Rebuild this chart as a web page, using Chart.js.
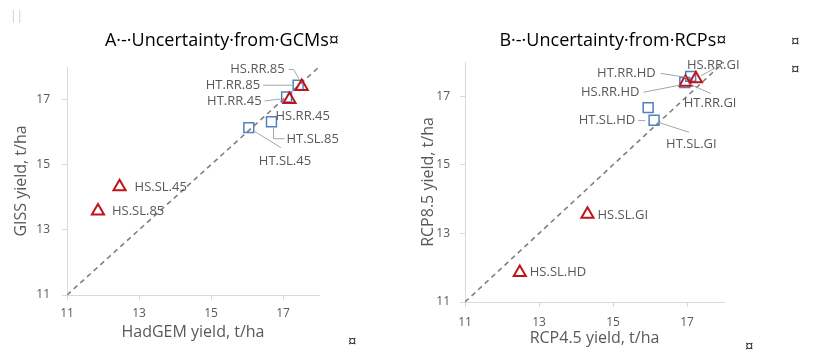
<!DOCTYPE html>
<html><head><meta charset="utf-8">
<script src="https://cdn.jsdelivr.net/npm/chart.js@4.4.1/dist/chart.umd.min.js"></script>
<style>
html,body{margin:0;padding:0;background:#fff;width:827px;height:352px;overflow:hidden;font-family:'Open Sans',sans-serif;}
canvas{position:absolute;top:0;}
#ca{left:0;}
#cb{left:400px;}
.mk{position:absolute;font-size:15px;line-height:15px;color:#1a1a1a;}
</style></head><body>
<canvas id="ca" width="370" height="352"></canvas>
<canvas id="cb" width="427" height="352"></canvas>
<span class="mk" style="left:10px;top:8px;color:#c9c9e6;font-size:12px;">||</span>
<span class="mk" style="left:791px;top:33px;">¤</span>
<span class="mk" style="left:791px;top:61px;">¤</span>
<span class="mk" style="left:348px;top:333px;">¤</span>
<span class="mk" style="left:745px;top:338px;">¤</span>
<script>
// ---------- data ----------
const tickValues = [11, 13, 15, 17];
const axisRange = [11, 18];
const oneToOne = [11, 18];

// Panel A: Uncertainty from GCMs (HadGEM vs GISS)
const aTitle = 'A·-·Uncertainty·from·GCMs¤';
const aXTitle = 'HadGEM yield, t/ha';
const aYTitle = 'GISS yield, t/ha';
const aSquareNames = ['HT.SL.45', 'HT.SL.85', 'HT.RR.45', 'HT.RR.85'];
const aSquareX = [16.05, 16.68, 17.10, 17.42];
const aSquareY = [16.14, 16.32, 17.08, 17.44];
const aTriNames = ['HS.SL.45', 'HS.SL.85', 'HS.RR.45', 'HS.RR.85'];
const aTriX = [12.46, 11.86, 17.18, 17.52];
const aTriY = [14.32, 13.58, 17.00, 17.40];

// Panel B: Uncertainty from RCPs (RCP4.5 vs RCP8.5)
const bTitle = 'B·-·Uncertainty·from·RCPs¤';
const bXTitle = 'RCP4.5 yield, t/ha';
const bYTitle = 'RCP8.5 yield, t/ha';
const bSquareNames = ['HT.SL.HD', 'HT.SL.GI', 'HT.RR.HD', 'HT.RR.GI'];
const bSquareX = [15.95, 16.11, 17.10, 16.94];
const bSquareY = [16.67, 16.30, 17.58, 17.40];
const bTriNames = ['HS.SL.HD', 'HS.SL.GI', 'HS.RR.HD', 'HS.RR.GI'];
const bTriX = [12.48, 14.31, 16.96, 17.24];
const bTriY = [11.86, 13.56, 17.41, 17.51];

// ---------- label placement (pixel offsets from each point) ----------
const labelPlacement = {
  'HS.SL.45': {dx: 15, dy: 0, align: 'left'},
  'HS.SL.85': {dx: 14, dy: 0, align: 'left'},
  'HT.SL.45': {dx: 10, dy: 34, align: 'left', leader: [[6, 4], [32, 20]]},
  'HT.SL.85': {dx: 15, dy: 18, align: 'left', leader: [[2, 6], [2, 17], [13, 17]]},
  'HS.RR.45': {dx: -14, dy: 17, align: 'left'},
  'HT.RR.45': {dx: -25, dy: 4, align: 'right', leader: [[-22, 4], [-6, 2]]},
  'HT.RR.85': {dx: -38, dy: 0, align: 'right', leader: [[-35, 0], [-6, 0]]},
  'HS.RR.85': {dx: -17, dy: -17, align: 'right', leader: [[-13, -17], [-8, -17], [-3, -8]]},
  'HS.SL.HD': {dx: 10, dy: 0, align: 'left'},
  'HS.SL.GI': {dx: 10, dy: 1, align: 'left'},
  'HT.SL.GI': {dx: 12, dy: 24, align: 'left', leader: [[4, 2], [35, 12]]},
  'HT.SL.HD': {dx: -13, dy: 13, align: 'right', leader: [[-10, 13], [-3, 13]]},
  'HS.RR.HD': {dx: -46, dy: 10, align: 'right', leader: [[-42, 10], [-6, 3]]},
  'HT.RR.HD': {dx: -35, dy: -3, align: 'right', leader: [[-30, -3], [-4, 1]]},
  'HT.RR.GI': {dx: -1, dy: 21, align: 'left', leader: [[4, 1], [26, 11]]},
  'HS.RR.GI': {dx: -9, dy: -14, align: 'left', leader: [[5, -3], [18, -10]]}
};

const FONT = "'Open Sans', sans-serif";
const GREY = '#595959';

const pointLabels = {
  id: 'pointLabels',
  afterDatasetsDraw(chart) {
    const ctx = chart.ctx;
    ctx.save();
    chart.data.datasets.forEach((ds, di) => {
      if (!ds.names) return;
      const meta = chart.getDatasetMeta(di);
      meta.data.forEach((el, i) => {
        const p = labelPlacement[ds.names[i]];
        if (!p || !p.leader) return;
        ctx.strokeStyle = '#a6a6a6';
        ctx.lineWidth = 1;
        ctx.beginPath();
        p.leader.forEach(([lx, ly], k) => {
          if (k === 0) ctx.moveTo(el.x + lx, el.y + ly); else ctx.lineTo(el.x + lx, el.y + ly);
        });
        ctx.stroke();
      });
    });
    chart.data.datasets.forEach((ds, di) => {
      if (!ds.names) return;
      const meta = chart.getDatasetMeta(di);
      meta.data.forEach((el, i) => {
        const p = labelPlacement[ds.names[i]];
        if (!p) return;
        ctx.font = '13px ' + FONT;
        ctx.fillStyle = GREY;
        ctx.textAlign = p.align;
        ctx.textBaseline = 'middle';
        ctx.fillText(ds.names[i], el.x + p.dx, el.y + p.dy);
      });
    });
    ctx.restore();
  }
};

const panelTitle = {
  id: 'panelTitle',
  afterDraw(chart, args, opts) {
    const ctx = chart.ctx;
    ctx.save();
    ctx.font = '18px ' + FONT;
    ctx.fillStyle = '#000';
    ctx.textAlign = 'center';
    ctx.textBaseline = 'middle';
    ctx.fillText(opts.text, opts.x, opts.y);
    ctx.restore();
  }
};

function pts(xs, ys) { return xs.map((x, i) => ({x: x, y: ys[i]})); }

function makeChart(id, cfg) {
  const axis = (title, isX) => ({
    type: 'linear',
    min: axisRange[0],
    max: axisRange[1],
    afterBuildTicks: s => { s.ticks = tickValues.map(v => ({value: v})); },
    afterFit: s => { if (isX) s.height = cfg.xAxisH; else s.width = cfg.yAxisW; },
    grid: {drawOnChartArea: false, drawTicks: true, tickLength: 5, color: '#d9d9d9'},
    border: {color: '#d9d9d9', width: 1},
    ticks: {color: GREY, font: {family: FONT, size: 12}, padding: isX ? cfg.xTickPad : cfg.yTickPad},
    title: {
      display: true, text: title, color: GREY, font: {family: FONT, size: 16},
      padding: isX ? {top: 0, bottom: cfg.xTitlePad} : {top: cfg.yTitlePad, bottom: 0}
    }
  });
  return new Chart(document.getElementById(id), {
    type: 'scatter',
    data: {
      datasets: [
        {label: 'HS', names: cfg.triNames, data: pts(cfg.triX, cfg.triY), pointStyle: 'triangle',
         pointRadius: 7, pointBorderWidth: 2, borderColor: '#c0141c', backgroundColor: 'rgba(255,255,255,0)'},
        {label: 'HT', names: cfg.sqNames, data: pts(cfg.sqX, cfg.sqY), pointStyle: 'rect',
         pointRadius: 7, pointBorderWidth: 1.5, borderColor: '#4f81bd', backgroundColor: 'rgba(255,255,255,0)'},
        {label: '1:1', data: pts(oneToOne, oneToOne), showLine: true, pointRadius: 0,
         borderColor: '#7f7f7f', borderWidth: 1.6, borderDash: [5, 4]}
      ]
    },
    options: {
      responsive: false,
      animation: false,
      devicePixelRatio: 1,
      layout: {padding: cfg.padding},
      scales: {x: axis(cfg.xTitle, true), y: axis(cfg.yTitle, false)},
      plugins: {
        legend: {display: false},
        tooltip: {enabled: false},
        panelTitle: {text: cfg.title, x: cfg.titleX, y: cfg.titleY}
      }
    },
    plugins: [pointLabels, panelTitle]
  });
}

makeChart('ca', {
  title: aTitle, titleX: 222, titleY: 41,
  xTitle: aXTitle, yTitle: aYTitle,
  sqNames: aSquareNames, sqX: aSquareX, sqY: aSquareY,
  triNames: aTriNames, triX: aTriX, triY: aTriY,
  padding: {left: 0, top: 67, right: 51, bottom: 0},
  xAxisH: 57, yAxisW: 67, xTickPad: 6, yTickPad: 12, xTitlePad: 10, yTitlePad: 12
});

makeChart('cb', {
  title: bTitle, titleX: 213, titleY: 41,
  xTitle: bXTitle, yTitle: bYTitle,
  sqNames: bSquareNames, sqX: bSquareX, sqY: bSquareY,
  triNames: bTriNames, triX: bTriX, triY: bTriY,
  padding: {left: 0, top: 62, right: 103, bottom: 0},
  xAxisH: 50, yAxisW: 65, xTickPad: 8, yTickPad: 10, xTitlePad: 4, yTitlePad: 19
});
</script>
</body></html>
